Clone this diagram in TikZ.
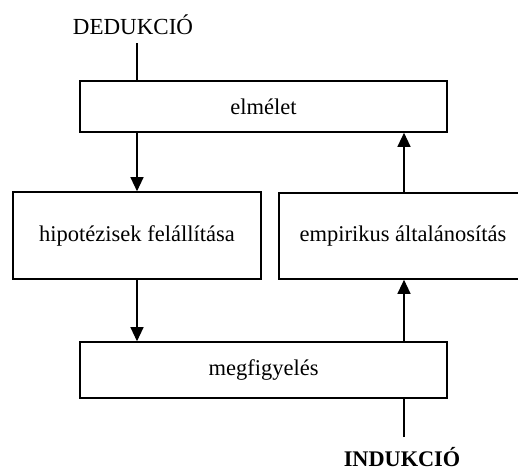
\documentclass[tikz,border=0pt]{standalone}
\usepackage{fontspec}
\setmainfont{Liberation Serif}
\usetikzlibrary{arrows.meta}
\begin{document}
\begin{tikzpicture}[x=1pt,y=-1pt,
  box/.style={draw, line width=1.6pt, rectangle, inner sep=0pt, font=\fontsize{22.5}{26}\selectfont},
  arr/.style={line width=1.2pt, -{Triangle[width=13pt,length=14pt]}},
  ln/.style={line width=1.2pt},
  lbl/.style={inner sep=0pt, font=\fontsize{23}{27}\selectfont}]
\useasboundingbox (0,0) rectangle (518,472);
\clip (0,0) rectangle (518,472);
\fill[white] (0,0) rectangle (518,472);
\coordinate (L) at (137,0);
\coordinate (R) at (404,0);
\node[lbl] (ded) at (133,25) {DEDUKCIÓ};
\node[lbl, font=\fontsize{22.3}{26}\selectfont\bfseries] (ind) at (402,457) {INDUKCIÓ};
\node[box, minimum width=367pt, minimum height=51pt] (elmelet) at (263.5,106.5) {elmélet};
\node[box, minimum width=248pt, minimum height=87pt] (hipo) at (137,235.5) {hipotézisek felállítása};
\node[box, minimum width=242pt, minimum height=86pt] (emp) at (400,236) {\hspace*{6pt}empirikus általánosítás};
\node[box, minimum width=367pt, minimum height=56pt] (megf) at (263.5,370) {megfigyelés};
\coordinate (dtop) at (137,43);
\coordinate (ibot) at (404,437);
\draw[ln] (dtop) -- (elmelet.north -| L);
\draw[arr] (elmelet.south -| L) -- (hipo.north -| L);
\draw[arr] (hipo.south -| L) -- (megf.north -| L);
\draw[arr] (megf.north -| R) -- (emp.south -| R);
\draw[arr] (emp.north -| R) -- (elmelet.south -| R);
\draw[ln] (ibot) -- (megf.south -| R);
\end{tikzpicture}
\end{document}
